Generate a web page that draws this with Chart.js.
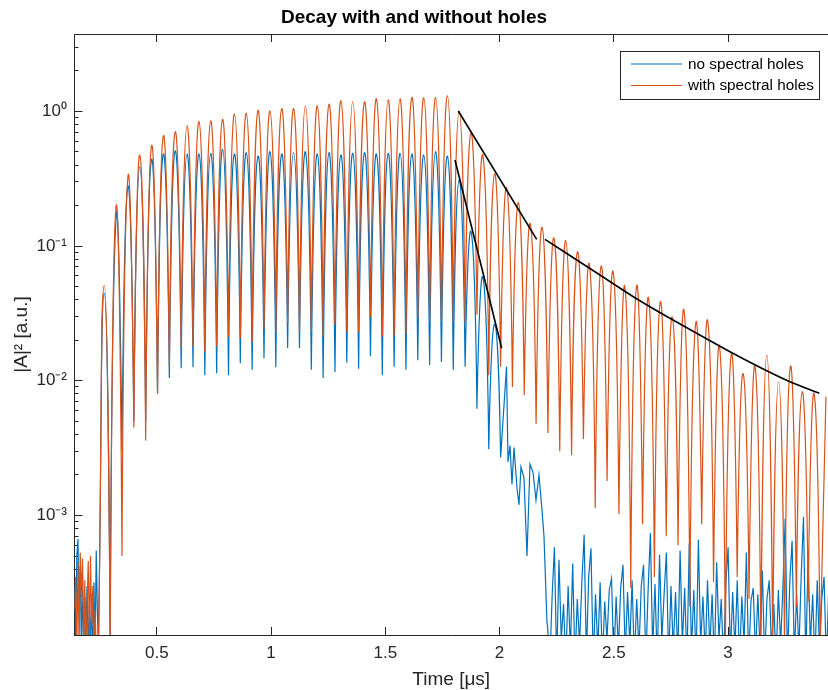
<!DOCTYPE html>
<html><head><meta charset="utf-8">
<script src="https://cdn.jsdelivr.net/npm/chart.js@4.4.1/dist/chart.umd.min.js"></script>
<style>html,body{margin:0;padding:0;background:#fff;}canvas{display:block;}</style>
</head><body>
<canvas id="c" width="828" height="690"></canvas>
<script>
// ---------- data ----------
const xTickValues = [0.5, 1, 1.5, 2, 2.5, 3];
const xTickLabels = ['0.5', '1', '1.5', '2', '2.5', '3'];
const yTickValues = [1e-3, 1e-2, 1e-1, 1];
const yTickLabels = ['10\u207B\u00B3', '10\u207B\u00B2', '10\u207B\u00B9', '10\u2070'];
const yMinorTicks = [2e-4,3e-4,4e-4,5e-4,6e-4,7e-4,8e-4,9e-4,2e-3,3e-3,4e-3,5e-3,6e-3,7e-3,8e-3,9e-3,
  0.02,0.03,0.04,0.05,0.06,0.07,0.08,0.09,0.2,0.3,0.4,0.5,0.6,0.7,0.8,0.9,2,3];

// time (µs) of each oscillation maximum
const peakTime = [0.2702,0.3220,0.3737,0.4255,0.4773,0.5291,0.5808,0.6326,0.6844,0.7361,
  0.7879,0.8397,0.8914,0.9432,0.9950,1.0468,1.0985,1.1503,1.2021,1.2538,
  1.3056,1.3574,1.4091,1.4609,1.5127,1.5645,1.6162,1.6680,1.7198,1.7715,
  1.8233,1.8751,1.9268,1.9786,2.0304,2.0822,2.1339,2.1857,2.2375,2.2892,
  2.3410,2.3928,2.4445,2.4963,2.5481,2.5999,2.6516,2.7034,2.7552,2.8069,
  2.8587,2.9105,2.9622,3.0140,3.0658,3.1176,3.1693,3.2211,3.2729,3.3246,
  3.3764,3.4282];
// time (µs) of the minimum just before each maximum
const troughTime = [0.2443,0.2961,0.3478,0.3996,0.4514,0.5032,0.5549,0.6067,0.6585,0.7102,
  0.7620,0.8138,0.8655,0.9173,0.9691,1.0209,1.0726,1.1244,1.1762,1.2279,
  1.2797,1.3315,1.3832,1.4350,1.4868,1.5386,1.5903,1.6421,1.6939,1.7456,
  1.7974,1.8492,1.9009,1.9527,2.0045,2.0563,2.1080,2.1598,2.2116,2.2633,
  2.3151,2.3669,2.4186,2.4704,2.5222,2.5740,2.6257,2.6775,2.7293,2.7810,
  2.8328,2.8846,2.9363,2.9881,3.0399,3.0917,3.1434,3.1952,3.2470,3.2987,
  3.3505,3.4023];

const orangePeak = [0.051,0.198,0.327,0.474,0.556,0.66,0.706,0.783,0.84,0.85,
  0.873,0.957,0.97,1.02,1.01,1.05,1.05,1.10,1.10,1.13,
  1.20,1.18,1.18,1.24,1.22,1.24,1.27,1.26,1.27,1.31,
  1.0,0.69,0.47,0.345,0.272,0.21,0.147,0.138,0.115,0.11,
  0.0905,0.0731,0.071,0.065,0.05,0.0506,0.0413,0.0385,0.0298,0.0336,
  0.0269,0.028,0.0181,0.0158,0.0113,0.0128,0.0155,0.0098,0.0128,0.0083,
  0.0080,0.0076];
const orangeTrough = [1e-4,1e-4,5e-4,0.0045,0.0036,0.0081,0.013,0.0178,0.018,0.0163,
  0.0181,0.0211,0.0207,0.0194,0.0242,0.023,0.0268,0.023,0.023,0.0212,
  0.0259,0.0231,0.0231,0.0298,0.0212,0.0218,0.0225,0.029,0.0274,0.0269,
  0.0267,0.0267,0.031,0.011,0.0127,0.009,0.0078,0.0048,0.0041,0.0030,
  0.0028,0.0037,0.00113,0.0018,0.00102,2.9e-4,8.6e-4,3.5e-4,7e-4,6e-4,
  2.1e-4,8.6e-4,3.2e-4,1e-4,3.5e-4,2.4e-4,1e-4,1e-4,1e-4,2.1e-4,
  2.3e-4,1e-4];

const bluePeak = [0.0445,0.165,0.279,0.388,0.44,0.483,0.51,0.483,0.483,0.488,
  0.526,0.483,0.494,0.466,0.502,0.483,0.494,0.502,0.483,0.494,
  0.475,0.488,0.494,0.483,0.488,0.488,0.483,0.475,0.502,0.466,
  0.31,0.128,0.059,0.0263,0.0127];
const blueTrough = [1e-4,1e-4,0.003,0.005,0.005,0.008,0.0105,0.0124,0.0126,0.011,
  0.0114,0.011,0.0135,0.0121,0.0147,0.0126,0.0175,0.0175,0.0121,0.0105,
  0.0116,0.0136,0.0123,0.0152,0.011,0.0127,0.0121,0.0142,0.0131,0.0138,
  0.0121,0.0127,0.0062,0.0031,0.0027];

// noise before the pulse arrives
const startNoiseTime = [0.140,0.145,0.150,0.155,0.160,0.165,0.170,0.175,0.180,0.185,0.190,
  0.195,0.200,0.205,0.210,0.215,0.220,0.225,0.230,0.235,0.240];
const blueStartNoise = [3.0e-4,1.0e-4,5.0e-4,6.7e-4,2.0e-4,4.2e-4,1.0e-4,3.5e-4,0.9e-4,2.5e-4,1.5e-4,
  3.0e-4,0.9e-4,2.2e-4,1.0e-4,2.6e-4,0.9e-4,3.2e-4,1.0e-4,5.5e-4,2.0e-4];
const orangeStartNoise = [2.0e-4,3.5e-4,1.0e-4,4.5e-4,1.0e-4,5.3e-4,2.5e-4,4.8e-4,1.0e-4,3.3e-4,0.8e-4,
  2.2e-4,4.6e-4,1.2e-4,5.0e-4,1.5e-4,3.0e-4,0.8e-4,2.0e-4,1.0e-4,1.2e-4];

// blue signal after it has decayed (residual band + noise floor)
const blueTailTime = [2.0369,2.0456,2.0544,2.0631,2.0762,2.0850,2.0937,2.1068,2.1200,2.1331,2.1462,2.1593,2.1725,2.1856,2.1944,2.2075,
  2.21,2.22,2.23,2.24,2.25,2.26,2.27,2.28,2.29,2.30,2.31,2.32,2.33,2.34,2.35,2.36,2.37,2.38,2.39,2.40,
  2.41,2.42,2.43,2.44,2.45,2.46,2.47,2.48,2.49,2.50,2.51,2.52,2.53,2.54,2.55,2.56,2.57,2.58,2.59,2.60,
  2.61,2.62,2.63,2.64,2.65,2.66,2.67,2.68,2.69,2.70,2.71,2.72,2.73,2.74,2.75,2.76,2.77,2.78,2.79,2.80,
  2.81,2.82,2.83,2.84,2.85,2.86,2.87,2.88,2.89,2.90,2.91,2.92,2.93,2.94,2.95,2.96,2.97,2.98,2.99,3.00,
  3.01,3.02,3.03,3.04,3.05,3.06,3.07,3.08,3.09,3.10,3.11,3.12,3.13,3.14,3.15,3.16,3.17,3.18,3.19,3.20,
  3.21,3.22,3.23,3.24,3.25,3.26,3.27,3.28,3.29,3.30,3.31,3.32,3.33,3.34,3.35,3.36,3.37,3.38,3.39,3.40,
  3.41,3.42,3.43,3.44];
const blueTailValue = [0.0025,0.0033,0.0017,0.0032,0.0016,0.0012,0.0023,0.0019,0.0005,0.0024,0.0021,0.0013,0.0020,0.0011,0.0007,1.6e-4,
  1.5e-4,0.8e-4,2.5e-4,5.8e-4,0.8e-4,4.7e-4,1.2e-4,2.2e-4,0.8e-4,3.0e-4,1.0e-4,4.4e-4,0.8e-4,2.4e-4,1.1e-4,3.2e-4,7.2e-4,0.9e-4,3.5e-4,5.7e-4,
  0.8e-4,2.6e-4,1.0e-4,3.2e-4,0.8e-4,2.3e-4,1.2e-4,2.8e-4,3.4e-4,0.8e-4,2.5e-4,1.0e-4,2.9e-4,4.3e-4,0.9e-4,2.7e-4,1.1e-4,3.3e-4,0.8e-4,2.4e-4,
  1.0e-4,3.0e-4,4.3e-4,0.8e-4,2.8e-4,7.4e-4,1.0e-4,3.1e-4,0.8e-4,5.1e-4,1.2e-4,2.6e-4,5.3e-4,0.8e-4,3.0e-4,1.0e-4,2.7e-4,0.9e-4,5.5e-4,1.1e-4,
  2.9e-4,0.8e-4,6.2e-4,1.0e-4,2.8e-4,0.8e-4,6.6e-4,1.1e-4,2.5e-4,0.9e-4,3.3e-4,1.0e-4,2.6e-4,0.8e-4,4.5e-4,1.2e-4,2.4e-4,0.8e-4,3.1e-4,5.8e-4,
  0.9e-4,2.7e-4,1.0e-4,3.3e-4,0.8e-4,2.5e-4,1.1e-4,5.3e-4,0.8e-4,2.3e-4,2.9e-4,0.9e-4,2.6e-4,1.0e-4,3.9e-4,0.8e-4,2.4e-4,3.3e-4,1.0e-4,2.2e-4,
  0.8e-4,2.8e-4,1.1e-4,3.0e-4,9.5e-4,0.8e-4,3.2e-4,6.5e-4,0.9e-4,2.6e-4,1.0e-4,3.6e-4,9.8e-4,0.8e-4,5.1e-4,1.1e-4,2.6e-4,0.8e-4,3.3e-4,1.0e-4,
  2.4e-4,3.5e-4,0.8e-4,2.7e-4];

// fitted decay curves (black)
const fitBlueTime = [1.8049, 2.0093];
const fitBlueValue = [0.4356, 0.01743];
const fitOrangeTime = [1.8194, 2.1624];
const fitOrangeValue = [1.007, 0.1123];
const fitTailTime = [2.1988, 2.4394, 2.5852, 2.7458, 2.8626, 3.0083, 3.1689, 3.2708, 3.3991];
const fitTailValue = [0.1123, 0.0610, 0.0421, 0.0291, 0.02253, 0.01644, 0.01189, 0.00985, 0.00808];

// ---------- assemble datasets from the arrays ----------
function pairs(ts, vs) { return ts.map((t, i) => ({x: t, y: vs[i]})); }
function oscillation(n, troughs, peaks) {
  const out = [];
  for (let i = 0; i < n; i++) {
    out.push({x: troughTime[i], y: troughs[i]});
    out.push({x: peakTime[i], y: peaks[i]});
  }
  return out;
}
const nB = bluePeak.length;
const blueOsc = oscillation(nB, blueTrough, bluePeak);
const orangeOsc = oscillation(orangePeak.length, orangeTrough, orangePeak);
// noise pieces joined to the first minimum / last blue maximum so the traces stay continuous
const blueStart = pairs(startNoiseTime, blueStartNoise).concat([{x: troughTime[0], y: blueTrough[0]}]);
const orangeStart = pairs(startNoiseTime, orangeStartNoise).concat([{x: troughTime[0], y: orangeTrough[0]}]);
const blueTail = [{x: peakTime[nB - 1], y: bluePeak[nB - 1]}].concat(pairs(blueTailTime, blueTailValue));

// ---------- styling ----------
const FONT = "'Liberation Sans', Arial, Helvetica, sans-serif";
const AX = '#262626';
const BLUE = '#0072BD';
const ORANGE = '#D95319';
const X_MIN = 0.1399, X_MAX = 3.4372;
const Y_MIN = 1.2965e-4, Y_MAX = 3.755;

// make the minima of the smoothed curves sharp cusps (|A|^2 dips), keep maxima rounded
const cuspPlugin = {
  id: 'cusps',
  beforeDatasetDraw(chart, args) {
    const meta = args.meta;
    const line = meta.dataset;
    if (!line || !line.options || !line.options.tension) return;
    line.updateControlPoints(chart.chartArea, meta.iScale.axis);
    const pts = meta.data;
    for (let i = 1; i < pts.length - 1; i++) {
      const p = pts[i];
      if (p.y > pts[i - 1].y && p.y > pts[i + 1].y) {
        p.cp1x = p.x; p.cp1y = p.y; p.cp2x = p.x; p.cp2y = p.y;
      }
    }
    line._path = undefined;
  }
};

const LEGEND_ITEMS = ['no spectral holes', 'with spectral holes'];
const boxLegend = {
  id: 'boxLegend',
  afterDraw(chart) {
    const ctx = chart.ctx;
    ctx.save();
    ctx.fillStyle = '#fff';
    ctx.fillRect(620.5, 51.5, 199, 48);
    ctx.strokeStyle = AX;
    ctx.lineWidth = 1;
    ctx.strokeRect(620.5, 51.5, 199, 48);
    LEGEND_ITEMS.forEach((name, i) => {
      const ds = chart.data.datasets.find(d => d.label === name);
      const y = 64 + i * 21.5;
      ctx.strokeStyle = ds.borderColor;
      ctx.lineWidth = 1.2;
      ctx.beginPath(); ctx.moveTo(631, y); ctx.lineTo(682, y); ctx.stroke();
      ctx.fillStyle = '#000';
      ctx.font = '15.3px ' + FONT;
      ctx.textAlign = 'left';
      ctx.textBaseline = 'middle';
      ctx.fillText(ds.label, 688, y + 0.5);
    });
    ctx.restore();
  }
};

const lineDs = (label, data, color, width, order, extra) => Object.assign({
  label, data, borderColor: color, backgroundColor: color, borderWidth: width,
  pointRadius: 0, pointHoverRadius: 0, fill: false, order, tension: 0
}, extra || {});

new Chart(document.getElementById('c'), {
  type: 'line',
  data: {
    datasets: [
      lineDs('no spectral holes', blueOsc, BLUE, 1.2, 2, {tension: 0.65}),
      lineDs('with spectral holes', orangeOsc, ORANGE, 1.2, 1, {tension: 0.65}),
      lineDs('no spectral holes (pre-pulse)', blueStart, BLUE, 1.2, 2),
      lineDs('with spectral holes (pre-pulse)', orangeStart, ORANGE, 1.2, 1),
      lineDs('no spectral holes (decayed)', blueTail, BLUE, 1.2, 2),
      lineDs('fit no holes', pairs(fitBlueTime, fitBlueValue), '#000', 1.6, 0),
      lineDs('fit holes 1', pairs(fitOrangeTime, fitOrangeValue), '#000', 1.6, 0),
      lineDs('fit holes 2', pairs(fitTailTime, fitTailValue), '#000', 1.6, 0, {cubicInterpolationMode: 'monotone'})
    ]
  },
  options: {
    responsive: false,
    animation: false,
    devicePixelRatio: 1,
    events: [],
    layout: {padding: 0},
    plugins: {
      legend: {display: false},
      tooltip: {enabled: false},
      title: {
        display: true, text: 'Decay with and without holes', color: '#000',
        font: {family: FONT, size: 19, weight: 'bold'},
        padding: {top: 6, bottom: 5.2}
      }
    },
    scales: {
      x: {
        type: 'linear', position: 'bottom', min: X_MIN, max: X_MAX, bounds: 'data',
        afterBuildTicks: s => { s.ticks = xTickValues.map(v => ({value: v})); },
        afterFit: s => { s.height = 55; },
        ticks: {callback: (v, i) => xTickLabels[i], color: AX, font: {family: FONT, size: 17},
                padding: 15.8, maxRotation: 0, autoSkip: false},
        grid: {drawOnChartArea: false, tickLength: -8, color: AX, tickColor: AX, tickWidth: 1},
        border: {display: true, color: AX, width: 1},
        title: {display: true, text: 'Time [\u03BCs]', color: AX,
                font: {family: FONT, size: 19, lineHeight: 1}, padding: {top: 0, bottom: 0.5}}
      },
      xTop: {
        type: 'linear', position: 'top', min: X_MIN, max: X_MAX, bounds: 'data',
        afterBuildTicks: s => { s.ticks = xTickValues.map(v => ({value: v})); },
        afterFit: s => { s.height = 0; },
        ticks: {display: false},
        grid: {drawOnChartArea: false, tickLength: -8, color: AX, tickColor: AX, tickWidth: 1},
        border: {display: true, color: AX, width: 1}
      },
      y: {
        type: 'logarithmic', position: 'left', min: Y_MIN, max: Y_MAX, bounds: 'data', weight: 1,
        afterBuildTicks: s => { s.ticks = yTickValues.map(v => ({value: v})); },
        afterFit: s => { s.width = 74.5; },
        ticks: {callback: (v, i) => yTickLabels[i], color: AX, font: {family: FONT, size: 17},
                padding: 15.5, autoSkip: false},
        grid: {drawOnChartArea: false, tickLength: -8, color: AX, tickColor: AX, tickWidth: 1},
        border: {display: true, color: AX, width: 1},
        title: {display: true, text: '|A|\u00B2 [a.u.]', color: AX,
                font: {family: FONT, size: 19}, padding: {top: 10, bottom: 0}}
      },
      yMinor: {
        type: 'logarithmic', position: 'left', min: Y_MIN, max: Y_MAX, bounds: 'data', weight: 0,
        afterBuildTicks: s => { s.ticks = yMinorTicks.map(v => ({value: v})); },
        afterFit: s => { s.width = 0; },
        ticks: {display: false},
        grid: {drawOnChartArea: false, tickLength: -4, color: AX, tickColor: AX, tickWidth: 1},
        border: {display: false}
      }
    }
  },
  plugins: [cuspPlugin, boxLegend]
});
</script>
</body></html>
